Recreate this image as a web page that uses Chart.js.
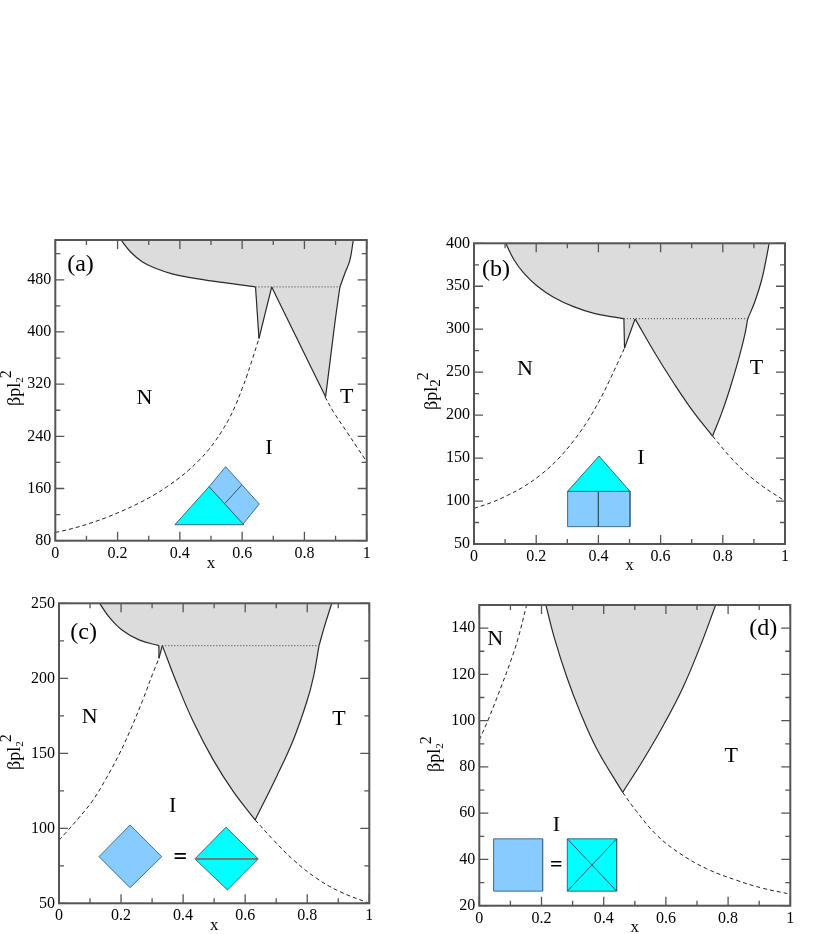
<!DOCTYPE html>
<html>
<head>
<meta charset="utf-8">
<script src="https://cdn.jsdelivr.net/npm/chart.js@4"></script>
<style>
  html, body { margin: 0; padding: 0; background: #fff; overflow: hidden; height: 934px; }
  canvas { position: absolute; filter: blur(0.35px); }
</style>
</head>
<body>
<canvas id="panelA"></canvas>
<canvas id="panelB"></canvas>
<canvas id="panelC"></canvas>
<canvas id="panelD"></canvas>
<script>
// Panel (a): phase boundaries
const aDashLeft = [[0, 92.5], [0.054, 98.6], [0.107, 106], [0.161, 115], [0.214, 125.5], [0.268, 137.5], [0.322, 151.5], [0.364, 164.5],
  [0.397, 176], [0.429, 188.5], [0.461, 203], [0.488, 217], [0.514, 233], [0.536, 249], [0.557, 266], [0.579, 288],
  [0.6, 313], [0.616, 334], [0.632, 357], [0.654, 390]];
const aDashRight = [[0.866, 300.7], [0.893, 277.7], [0.936, 247], [0.968, 224], [1, 201]];
const aSolid = [
  [[0.211, 541], [0.241, 523], [0.279, 507.8], [0.322, 497.6], [0.375, 489], [0.429, 483.8], [0.536, 476], [0.643, 469]],
  [[0.643, 469], [0.654, 390]],
  [[0.654, 390], [0.695, 469]],
  [[0.695, 469], [0.78, 386], [0.868, 300.8]],
  [[0.868, 300.8], [0.88, 346], [0.893, 396], [0.904, 436], [0.914, 469]],
  [[0.914, 469], [0.93, 490], [0.946, 510], [0.957, 541]]
];
const aDotted = [[0.643, 469], [0.914, 469]];
const aXTicks = [0, 0.2, 0.4, 0.6, 0.8, 1];
const aYTicks = [80, 160, 240, 320, 400, 480];
const aXMinor = [0.1, 0.3, 0.5, 0.7, 0.9];
const aYMinor = [120, 200, 280, 360, 440, 520];
const aCyan = [[[0.384, 104.5], [0.605, 104.5], [0.4936, 162.8], [0.384, 104.5]]];
const aBlue = [[[0.4936, 162.8], [0.547, 193.4], [0.655, 136.2], [0.603, 105.5], [0.4936, 162.8]]];
const aInner = [[[0.5985, 165.3], [0.545, 137.2]]];
const aTexts = [['(a)', 0.081, 503.5, 24], ['N', 0.286, 298, 22], ['T', 0.936, 299.7, 22], ['I', 0.686, 222.5, 22]];

// Panel (b)
const bDashLeft = [[0, 91.5], [0.054, 98], [0.107, 106.5], [0.161, 117], [0.214, 130.5], [0.268, 148], [0.322, 171], [0.364, 192.5],
  [0.402, 216], [0.434, 239], [0.461, 260], [0.484, 278]];
const bDashRight = [[0.767, 175.7], [0.823, 151.6], [0.877, 132], [0.93, 116.7], [1, 100]];
const bSolid = [
  [[0.102, 400], [0.129, 380.6], [0.161, 365], [0.204, 350], [0.257, 337], [0.322, 326], [0.386, 318.5], [0.44, 314.6], [0.482, 312.3]],
  [[0.482, 312.3], [0.484, 278]],
  [[0.484, 278], [0.518, 312]],
  [[0.518, 312], [0.582, 272], [0.641, 238], [0.705, 204], [0.767, 175.7]],
  [[0.767, 175.7], [0.796, 202], [0.823, 231], [0.85, 264], [0.871, 294], [0.88, 312]],
  [[0.88, 312], [0.903, 332], [0.925, 357.3], [0.939, 380.6], [0.949, 400]]
];
const bDotted = [[0.482, 312.3], [0.88, 312.3]];
const bXTicks = [0, 0.2, 0.4, 0.6, 0.8, 1];
const bYTicks = [50, 100, 150, 200, 250, 300, 350, 400];
const bXMinor = [0.1, 0.3, 0.5, 0.7, 0.9];
const bYMinor = [75, 125, 175, 225, 275, 325, 375];
const bCyan = [[[0.301, 111.3], [0.5016, 111.3], [0.402, 152.4], [0.301, 111.3]]];
const bBlue = [[[0.301, 111.3], [0.5016, 111.3], [0.5016, 70.2], [0.301, 70.2], [0.301, 111.3]]];
const bInner = [[[0.4, 111.3], [0.4, 70.2]]];
const bTexts = [['(b)', 0.071, 369, 24], ['N', 0.164, 253.7, 22], ['T', 0.908, 254.5, 22], ['I', 0.537, 149.7, 22]];

// Panel (c)
const cDashLeft = [[0, 92], [0.024, 97.5], [0.064, 107], [0.107, 118], [0.15, 132.5], [0.193, 149], [0.231, 166], [0.269, 185],
  [0.301, 202.5], [0.322, 213.3]];
const cDashRight = [[0.632, 105.6], [0.691, 92.2], [0.755, 79], [0.83, 66.7], [0.905, 57.8], [1, 50]];
const cSolid = [
  [[0.131, 250], [0.161, 241], [0.204, 232], [0.258, 225.6], [0.322, 221.8]],
  [[0.322, 221.8], [0.322, 213.3]],
  [[0.322, 213.3], [0.333, 221.8]],
  [[0.333, 221.8], [0.379, 197], [0.433, 171], [0.497, 145.6], [0.562, 124.4], [0.632, 105.6]],
  [[0.632, 105.6], [0.701, 134.4], [0.755, 158.9], [0.798, 184], [0.82, 201], [0.838, 221.8]],
  [[0.838, 221.8], [0.857, 235.6], [0.879, 250]]
];
const cDotted = [[0.333, 221.8], [0.838, 221.8]];
const cXTicks = [0, 0.2, 0.4, 0.6, 0.8, 1];
const cYTicks = [50, 100, 150, 200, 250];
const cXMinor = [0.1, 0.3, 0.5, 0.7, 0.9];
const cYMinor = [75, 125, 175, 225];
const cCyan = [[[0.438, 79.6], [0.538, 100.7], [0.642, 79.6], [0.543, 58.9], [0.438, 79.6]]];
const cBlue = [[[0.129, 81.1], [0.229, 102.2], [0.331, 81.1], [0.229, 60.4], [0.129, 81.1]]];
const cInner = [];
const cGreyBar = [[0.438, 79.6], [0.642, 79.6]];
const cTexts = [['(c)', 0.0795, 230.7, 24], ['N', 0.099, 173.8, 22], ['T', 0.902, 172.9, 22], ['I', 0.366, 115, 22], ['=', 0.391, 80.5, 24, 'bold ']];

// Panel (d)
const dDashLeft = [[0, 91.7], [0.024, 98.9], [0.05, 107.6], [0.074, 116], [0.099, 125], [0.125, 135.7], [0.152, 150]];
const dDashRight = [[0.461, 69], [0.506, 60.7], [0.57, 50.6], [0.645, 42.6], [0.731, 36], [0.827, 31], [0.913, 27.5], [1, 25]];
const dSolid = [
  [[0.214, 150], [0.243, 135], [0.281, 119], [0.324, 103.8], [0.377, 88], [0.461, 69]],
  [[0.461, 69], [0.527, 83], [0.592, 98], [0.656, 114.7], [0.71, 132], [0.76, 150]]
];
const dXTicks = [0, 0.2, 0.4, 0.6, 0.8, 1];
const dYTicks = [20, 40, 60, 80, 100, 120, 140];
const dXMinor = [0.1, 0.3, 0.5, 0.7, 0.9];
const dYMinor = [30, 50, 70, 90, 110, 130, 150];
const dCyan = [[[0.283, 48.9], [0.4416, 48.9], [0.4416, 26.3], [0.283, 26.3], [0.283, 48.9]]];
const dBlue = [[[0.046, 48.9], [0.2036, 48.9], [0.2036, 26.3], [0.046, 26.3], [0.046, 48.9]]];
const dInner = [[[0.283, 48.9], [0.4416, 26.3]], [[0.283, 26.3], [0.4416, 48.9]]];
const dTexts = [['(d)', 0.913, 139.8, 24], ['N', 0.051, 135, 22], ['T', 0.81, 84.5, 22], ['I', 0.2476, 55, 22], ['=', 0.2476, 37.5, 22, 'bold ']];

const serif = '"Liberation Serif", "Times New Roman", serif';
const toPoints = pts => pts.map(p => ({ x: p[0], y: p[1] }));

// Draws the inward ticks and frame (all four sides) plus the free text labels
const panelExtras = {
    id: 'panelExtras',
    afterDatasetsDraw(chart, args, opts) {
        const ctx = chart.ctx;
        const area = chart.chartArea;
        const xs = chart.scales.x;
        const ys = chart.scales.y;
        ctx.save();
        ctx.strokeStyle = '#555';
        ctx.lineWidth = 1.3;
        const tick = (list, len) => {
            ctx.beginPath();
            list.x.forEach(v => {
                const px = xs.getPixelForValue(v);
                ctx.moveTo(px, area.bottom);
                ctx.lineTo(px, area.bottom - len);
                ctx.moveTo(px, area.top);
                ctx.lineTo(px, area.top + len);
            });
            list.y.forEach(v => {
                const py = ys.getPixelForValue(v);
                ctx.moveTo(area.left, py);
                ctx.lineTo(area.left + len, py);
                ctx.moveTo(area.right, py);
                ctx.lineTo(area.right - len, py);
            });
            ctx.stroke();
        };
        tick(opts.major, 9);
        tick(opts.minor, 5);
        ctx.strokeStyle = '#555';
        ctx.lineWidth = 2;
        ctx.strokeRect(area.left, area.top, area.right - area.left, area.bottom - area.top);

        // N, T, I, (a) ... placed through the scales
        ctx.fillStyle = '#000';
        ctx.textAlign = 'center';
        ctx.textBaseline = 'middle';
        opts.texts.forEach(t => {
            ctx.font = (t[4] || '') + t[3] + 'px ' + serif;
            ctx.fillText(t[0], xs.getPixelForValue(t[1]), ys.getPixelForValue(t[2]));
        });

        // y axis title with the stacked sub and superscript
        ctx.translate(opts.title.x, opts.title.y);
        ctx.rotate(-Math.PI / 2);
        ctx.textAlign = 'left';
        ctx.textBaseline = 'alphabetic';
        ctx.font = '18px ' + serif;
        ctx.fillText('βpl', 0, 0);
        const w = ctx.measureText('βpl').width;
        ctx.font = opts.title.subSize + 'px ' + serif;
        ctx.fillText('2', w, 3);
        const subW = ctx.measureText('2').width;
        ctx.font = '16px ' + serif;
        ctx.fillText('2', w + subW - 1, -9);
        ctx.restore();
    }
};

function shapeSets(panel) {
    const sets = [];
    const line = (pts, extra) => Object.assign({
        data: toPoints(pts), showLine: true, pointRadius: 0, borderColor: '#2a2a2a', borderWidth: 1.2, tension: 0, fill: false
    }, extra);
    // grey coexistence region, filled from all the solid pieces joined up
    sets.push(line(panel.solid.flat(), { fill: 'shape', backgroundColor: '#dcdcdc', borderWidth: 0, order: 10 }));
    // each solid piece gets its own smooth line so the corners stay sharp
    panel.solid.forEach(s => sets.push(line(s, { tension: 0.4, order: 9 })));
    sets.push(line(panel.dashLeft, { borderColor: '#222', borderWidth: 1, borderDash: [4, 3], tension: 0.4, order: 8 }));
    sets.push(line(panel.dashRight, { borderColor: '#222', borderWidth: 1, borderDash: [4, 3], tension: 0.4, order: 8 }));
    if (panel.dotted) {
        sets.push(line(panel.dotted, { borderColor: '#555', borderWidth: 1.3, borderDash: [1, 2], order: 7 }));
    }
    panel.blue.forEach(s => sets.push(line(s, { fill: 'shape', backgroundColor: '#87cbff', borderColor: '#3f6f90', borderWidth: 1, order: 6 })));
    panel.cyan.forEach(s => sets.push(line(s, { fill: 'shape', backgroundColor: '#00ffff', borderColor: '#3a6a70', borderWidth: 1, order: 5 })));
    panel.inner.forEach(s => sets.push(line(s, { borderColor: '#2f5a6a', borderWidth: 1, order: 4 })));
    if (panel.greyBar) {
        sets.push(line(panel.greyBar, { borderColor: '#777', borderWidth: 2, order: 3 }));
    }
    return sets;
}

function makePanel(id, panel) {
    const el = document.getElementById(id);
    const box = panel.canvas;
    el.style.left = box[0] + 'px';
    el.style.top = box[1] + 'px';
    el.width = box[2];
    el.height = box[3];
    const plot = panel.plot; // left, top, right, bottom in page pixels
    const noPad = s => { s.paddingLeft = s.paddingRight = s.paddingTop = s.paddingBottom = 0; };
    const tickFont = { family: serif, size: 16 };
    new Chart(el, {
        type: 'scatter',
        data: { datasets: shapeSets(panel) },
        plugins: [panelExtras],
        options: {
            responsive: false,
            animation: false,
            layout: { padding: { top: plot[1] - box[1], right: box[0] + box[2] - plot[2], left: 0, bottom: 0 } },
            plugins: {
                legend: { display: false },
                tooltip: { enabled: false },
                panelExtras: {
                    major: { x: panel.xTicks, y: panel.yTicks },
                    minor: { x: panel.xMinor, y: panel.yMinor },
                    texts: panel.texts,
                    title: { x: panel.yTitle[0] - box[0], y: panel.yTitle[1] - box[1], subSize: panel.yTitle[2] }
                }
            },
            scales: {
                x: {
                    type: 'linear', min: 0, max: 1,
                    grid: { display: false, drawTicks: false },
                    border: { display: false },
                    title: { display: true, text: 'x', color: '#000', font: { family: serif, size: 17, lineHeight: 1 }, padding: { top: 0, bottom: panel.xTitlePad } },
                    ticks: { color: '#000', font: tickFont, padding: 3, maxRotation: 0, autoSkip: false, callback: v => String(v) },
                    afterBuildTicks: s => { s.ticks = panel.xTicks.map(v => ({ value: v })); },
                    afterFit: s => { s.height = box[1] + box[3] - plot[3]; noPad(s); }
                },
                y: {
                    type: 'linear', min: panel.yRange[0], max: panel.yRange[1],
                    grid: { display: false, drawTicks: false },
                    border: { display: false },
                    ticks: { color: '#000', font: tickFont, padding: 4, autoSkip: false, callback: v => String(v) },
                    afterBuildTicks: s => { s.ticks = panel.yTicks.map(v => ({ value: v })); },
                    afterFit: s => { s.width = plot[0] - box[0]; noPad(s); }
                }
            }
        }
    });
}

makePanel('panelA', {
    canvas: [0, 200, 415, 380], plot: [55.3, 240, 366.7, 540.7], yRange: [80, 541], xTitlePad: 8, yTitle: [20, 406, 11],
    solid: aSolid, dashLeft: aDashLeft, dashRight: aDashRight, dotted: aDotted,
    xTicks: aXTicks, yTicks: aYTicks, xMinor: aXMinor, yMinor: aYMinor,
    cyan: aCyan, blue: aBlue, inner: aInner, texts: aTexts
});
makePanel('panelB', {
    canvas: [415, 200, 415, 384], plot: [474, 243.3, 785, 544], yRange: [50, 400], xTitlePad: 10, yTitle: [437, 410, 15],
    solid: bSolid, dashLeft: bDashLeft, dashRight: bDashRight, dotted: bDotted,
    xTicks: bXTicks, yTicks: bYTicks, xMinor: bXMinor, yMinor: bYMinor,
    cyan: bCyan, blue: bBlue, inner: bInner, texts: bTexts
});
makePanel('panelC', {
    canvas: [0, 585, 415, 360], plot: [59, 603.3, 369.3, 903.3], yRange: [50, 250], xTitlePad: 11, yTitle: [20, 770, 11],
    solid: cSolid, dashLeft: cDashLeft, dashRight: cDashRight, dotted: cDotted, greyBar: cGreyBar,
    xTicks: cXTicks, yTicks: cYTicks, xMinor: cXMinor, yMinor: cYMinor,
    cyan: cCyan, blue: cBlue, inner: cInner, texts: cTexts
});
makePanel('panelD', {
    canvas: [415, 585, 415, 360], plot: [479.3, 605, 790.3, 905.7], yRange: [20, 150], xTitlePad: 9, yTitle: [440, 772, 11],
    solid: dSolid, dashLeft: dDashLeft, dashRight: dDashRight,
    xTicks: dXTicks, yTicks: dYTicks, xMinor: dXMinor, yMinor: dYMinor,
    cyan: dCyan, blue: dBlue, inner: dInner, texts: dTexts
});
</script>
</body>
</html>
